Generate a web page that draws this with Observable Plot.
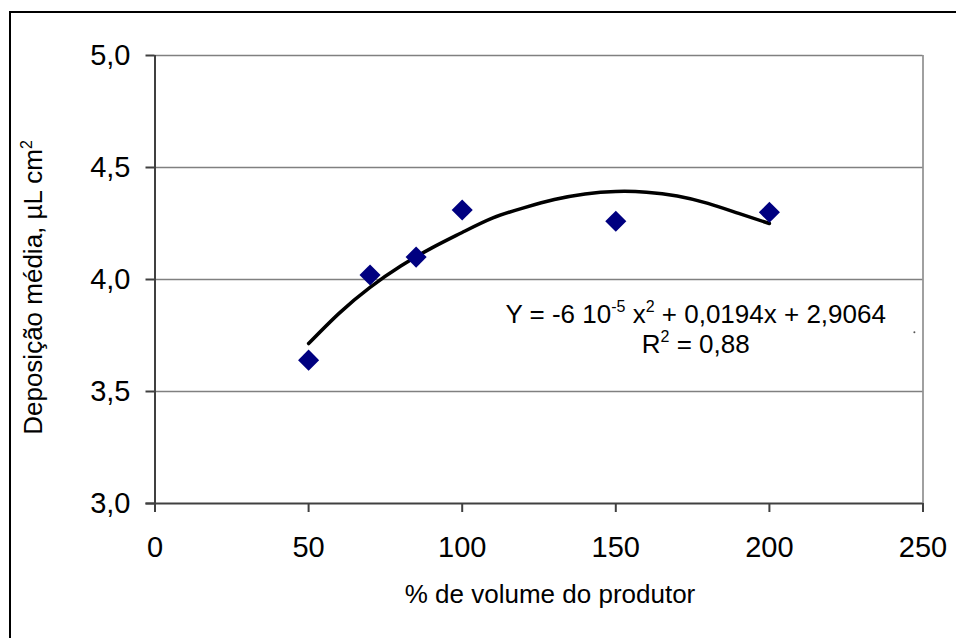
<!DOCTYPE html>
<html><head><meta charset="utf-8">
<script src="https://cdn.jsdelivr.net/npm/d3@7"></script>
<script src="https://cdn.jsdelivr.net/npm/@observablehq/plot@0.6"></script>
<style>
body{margin:0;background:#fff;}
#wrap{position:relative;width:956px;height:638px;overflow:hidden;background:#fff;}
#wrap svg{position:absolute;left:0;top:0;}
#border{position:absolute;left:9px;top:11px;width:1000px;height:700px;border:2px solid #000;box-sizing:border-box;pointer-events:none;}
</style></head><body><div id="wrap"><div id="border"></div></div>
<script>
// Observed points
const volume = [50, 70, 85, 100, 150, 200];
const deposition = [3.64, 4.02, 4.10, 4.31, 4.26, 4.30];
// Trend curve
const curveX = [50, 60, 70, 80, 90, 100, 110, 120, 130, 140, 150, 160, 170, 180, 190, 200];
const curveY = [3.714, 3.85, 3.965, 4.06, 4.14, 4.21, 4.275, 4.32, 4.357, 4.382, 4.393, 4.39, 4.373, 4.34, 4.295, 4.25];
// Ticks
const xTicks = [0, 50, 100, 150, 200, 250];
const yTicks = [3.0, 3.5, 4.0, 4.5, 5.0];
// Texts (parts: [text, superscript?])
const yTitleParts = [["Deposição média, µL cm", false], ["2", true]];
const xTitle = "% de volume do produtor";
const eq1Parts = [["Y = -6 10", false], ["-5", true], [" x", false], ["2", true], [" + 0,0194x + 2,9064", false]];
const eq2Parts = [["R", false], ["2", true], [" = 0,88", false]];

const points = volume.map((x, i) => ({x, y: deposition[i]}));
const curve = curveX.map((x, i) => ({x, y: curveY[i]}));
const join = p => p.map(d => d[0]).join("");
const fmt = d => d.toFixed(1).replace(".", ",");

const chart = Plot.plot({
  width: 956, height: 638,
  marginLeft: 154.5, marginRight: 33.5, marginTop: 55, marginBottom: 135,
  style: {fontFamily: "'Liberation Sans', Arial, sans-serif", background: "transparent", color: "#000"},
  x: {domain: [0, 250]},
  y: {domain: [3, 5]},
  marks: [
    Plot.gridY(yTicks.filter(d => d > 3), {stroke: "#808080", strokeOpacity: 1, strokeWidth: 1.5}),
    Plot.ruleX([250], {stroke: "#808080", strokeWidth: 1.5}),
    Plot.ruleX([0], {stroke: "#404040", strokeWidth: 2, insetBottom: -9}),
    Plot.ruleY([3], {stroke: "#404040", strokeWidth: 2, insetLeft: -9}),
    Plot.axisX({ticks: xTicks, tickSize: 9, tickPadding: 24, fontSize: 29, label: null, stroke: "#404040", strokeWidth: 2, tickFormat: d => String(d)}),
    Plot.axisY({ticks: yTicks, tickSize: 9, tickPadding: 15.5, fontSize: 29, label: null, stroke: "#404040", strokeWidth: 2, tickFormat: fmt}),
    Plot.line(curve, {x: "x", y: "y", stroke: "#000", strokeWidth: 3.5, curve: "natural"}),
    Plot.dot(points, {x: "x", y: "y", symbol: "diamond2", r: 9.5, fill: "#000080"}),
    Plot.text([join(eq1Parts)], {x: 176, y: 3.808, text: d => d, fontSize: 26, lineAnchor: "bottom", textAnchor: "middle"}),
    Plot.text([join(eq2Parts)], {x: 176, y: 3.670, text: d => d, fontSize: 26, lineAnchor: "bottom", textAnchor: "middle"}),
    Plot.dot([0], {x: 247.2, y: 3.765, r: 1, fill: "#555"}),
    Plot.text([xTitle], {frameAnchor: "bottom", dx: 11, dy: 99, text: d => d, fontSize: 26, lineAnchor: "bottom", textAnchor: "middle"}),
    Plot.text([join(yTitleParts)], {frameAnchor: "left", dx: -113.5, dy: 8, rotate: -90, text: d => d, fontSize: 26, lineAnchor: "bottom", textAnchor: "middle"})
  ]
});

function richText(el, parts, supSize, shift) {
  while (el.firstChild) el.removeChild(el.firstChild);
  let up = false;
  for (const [t, s] of parts) {
    const ts = document.createElementNS("http://www.w3.org/2000/svg", "tspan");
    ts.textContent = t;
    if (s && !up) { ts.setAttribute("dy", -shift); up = true; }
    else if (!s && up) { ts.setAttribute("dy", shift); up = false; }
    if (s) ts.setAttribute("font-size", supSize);
    el.appendChild(ts);
  }
}
for (const t of chart.querySelectorAll("text")) {
  const c = t.textContent;
  if (c === join(eq1Parts)) richText(t, eq1Parts, 16, 11);
  else if (c === join(eq2Parts)) richText(t, eq2Parts, 16, 11);
  else if (c === join(yTitleParts)) richText(t, yTitleParts, 16, 10);
}
document.getElementById("wrap").prepend(chart);
</script>
</body></html>
